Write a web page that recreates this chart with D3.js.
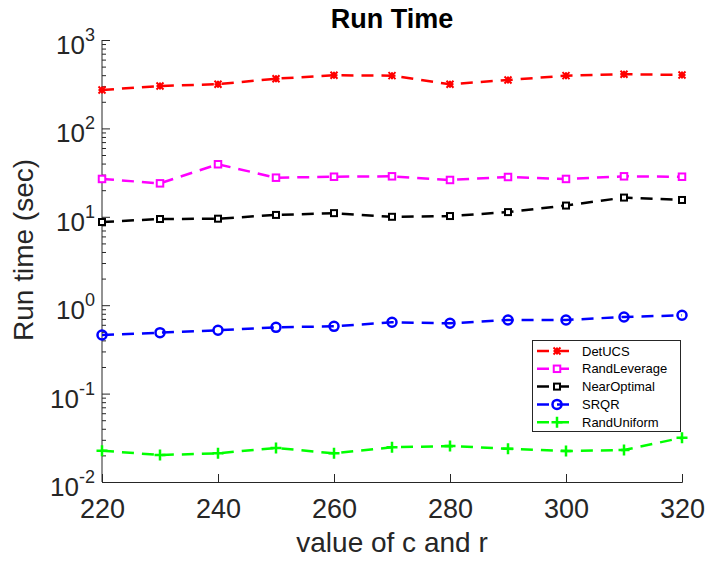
<!DOCTYPE html>
<html><head><meta charset="utf-8">
<script src="https://cdn.jsdelivr.net/npm/d3@7"></script>
<style>body{margin:0;background:#fff}svg{display:block}text{font-family:"Liberation Sans",Arial,sans-serif}</style>
</head><body>
<svg id="c" width="705" height="563"></svg>
<script>
const xValues = [220,230,240,250,260,270,280,290,300,310,320];
const detUCS = [272,302,316,365,399,395,316,353,395,410,402];
const randLeverage = [26.8,23.9,39.3,27.7,28.4,28.7,26.1,28.2,26.8,28.7,28.4];
const nearOptimal = [8.73,9.44,9.52,10.5,11.0,10.0,10.2,11.3,13.4,16.5,15.5];
const srqr = [0.460,0.489,0.520,0.562,0.577,0.641,0.624,0.681,0.681,0.736,0.769];
const randUniform = [0.0226,0.0202,0.0211,0.0243,0.0211,0.0247,0.0255,0.0238,0.0224,0.0230,0.0317];
const seriesNames = ["DetUCS","RandLeverage","NearOptimal","SRQR","RandUniform"];
const xTicks = [220,240,260,280,300,320];
const yTickExps = [-2,-1,0,1,2,3];
const title = "Run Time", xLabel = "value of c and r", yLabel = "Run time (sec)";

const series = [
  {name: seriesNames[0], values: detUCS, color: "#ff0000", marker: "star"},
  {name: seriesNames[1], values: randLeverage, color: "#ff00ff", marker: "square", size: 6.5},
  {name: seriesNames[2], values: nearOptimal, color: "#000000", marker: "square", size: 6},
  {name: seriesNames[3], values: srqr, color: "#0000ff", marker: "circle"},
  {name: seriesNames[4], values: randUniform, color: "#00ff00", marker: "plus"}
];

const svg = d3.select("#c");
const L = 102, R = 682, T = 40, B = 482;
const x = d3.scaleLinear().domain([220,320]).range([L,R]);
const y = d3.scaleLog().domain([0.01,1000]).range([B,T]);
const axisColor = "#262626";

svg.append("text").attr("x", (L+R)/2).attr("y", 28).attr("text-anchor","middle")
  .attr("font-size", 27).attr("font-weight","bold").attr("fill","#000").text(title);

const gx = svg.append("g").attr("transform", `translate(0,${B})`);
gx.call(d3.axisBottom(x).tickValues(xTicks).tickSize(-8).tickPadding(17).tickFormat(d3.format("d")));
gx.select(".domain").attr("stroke", axisColor).attr("stroke-width", 1);
gx.selectAll(".tick line").attr("stroke", axisColor);
gx.selectAll(".tick text").attr("font-size", 27).attr("fill", axisColor)
  .attr("font-family", '"Liberation Sans",Arial,sans-serif');

const gy = svg.append("g").attr("transform", `translate(${L},0)`);
const minor = [];
for (let e = -2; e < 3; e++) for (let k = 2; k <= 9; k++) minor.push(k*Math.pow(10,e));
gy.append("g").call(d3.axisLeft(y).tickValues(minor).tickSize(-4).tickFormat(""))
  .call(g => { g.select(".domain").remove(); g.selectAll(".tick line").attr("stroke", axisColor); });
const majorVals = yTickExps.map(e => Math.pow(10,e));
gy.append("g").call(d3.axisLeft(y).tickValues(majorVals).tickSize(-8).tickFormat(""))
  .call(g => { g.select(".domain").attr("stroke", axisColor).attr("d", `M0,${B}V${T}`); g.selectAll(".tick line").attr("stroke", axisColor); });
yTickExps.forEach(e => {
  const t = svg.append("text").attr("x", 95).attr("y", y(Math.pow(10,e)) + 14)
    .attr("text-anchor","end").attr("fill", axisColor).attr("font-size", 26);
  t.append("tspan").text("10");
  t.append("tspan").attr("dy", -13).attr("font-size", 18).text(String(e));
});

svg.append("text").attr("x", (L+R)/2).attr("y", 552).attr("text-anchor","middle")
  .attr("font-size", 28).attr("fill", axisColor).text(xLabel);
svg.append("text").attr("transform", `translate(33,250) rotate(-90)`).attr("text-anchor","middle")
  .attr("font-size", 28).attr("fill", axisColor).text(yLabel);

function drawMarker(g, m, cx, cy, color) {
  if (m.marker === "star") {
    const s = 3.5;
    g.append("path").attr("d", `M${cx-s},${cy-s}L${cx+s},${cy+s}M${cx-s},${cy+s}L${cx+s},${cy-s}M${cx-s},${cy}H${cx+s}M${cx},${cy-s}V${cy+s}`)
      .attr("stroke", color).attr("stroke-width", 2).attr("fill","none");
  } else if (m.marker === "square") {
    const s = m.size;
    g.append("rect").attr("x", cx-s/2).attr("y", cy-s/2).attr("width", s).attr("height", s)
      .attr("fill","#fff").attr("stroke", color).attr("stroke-width", 2);
  } else if (m.marker === "circle") {
    g.append("circle").attr("cx", cx).attr("cy", cy).attr("r", 4.5)
      .attr("fill","none").attr("stroke", color).attr("stroke-width", 2.5);
  } else if (m.marker === "plus") {
    const s = 5.5;
    g.append("path").attr("d", `M${cx-s},${cy}H${cx+s}M${cx},${cy-s}V${cy+s}`)
      .attr("stroke", color).attr("stroke-width", 2.5).attr("fill","none");
  }
}

const line = d3.line().x((d,i) => x(xValues[i])).y(d => y(d));
series.forEach(s => {
  const g = svg.append("g");
  g.append("path").datum(s.values).attr("d", line).attr("fill","none")
    .attr("stroke", s.color).attr("stroke-width", 2.5).attr("stroke-dasharray","12,8");
  s.values.forEach((v,i) => drawMarker(g, s, x(xValues[i]), y(v), s.color));
});

const lg = svg.append("g");
lg.append("rect").attr("x", 532.5).attr("y", 340.5).attr("width", 148).attr("height", 91)
  .attr("fill","#fff").attr("stroke", axisColor).attr("stroke-width", 1);
series.forEach((s,i) => {
  const yy = 351 + i*17.8;
  lg.append("line").attr("x1", 537).attr("x2", 570).attr("y1", yy).attr("y2", yy)
    .attr("stroke", s.color).attr("stroke-width", 2.5).attr("stroke-dasharray","12,8");
  drawMarker(lg, s, 557, yy, s.color);
  lg.append("text").attr("x", 582).attr("y", yy + 4.5).attr("font-size", 13).attr("fill","#000").text(s.name);
});
</script>
</body></html>
